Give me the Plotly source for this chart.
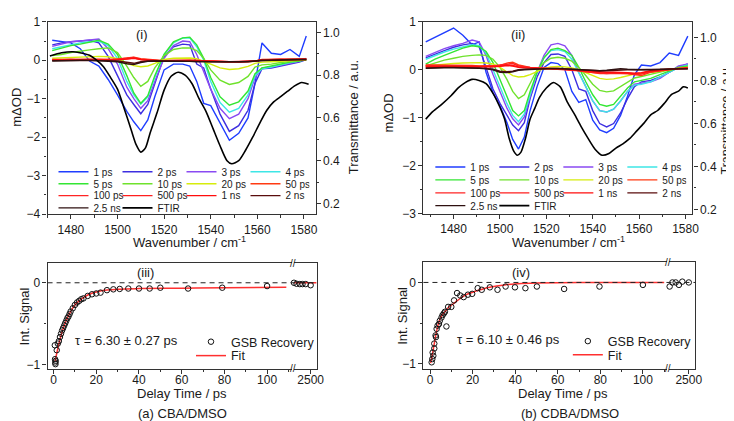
import plotly.graph_objects as go

# ---------------- data: panel (i) CBA/DMSO transient spectra ----------------
wn_a = [1472, 1476, 1480, 1484, 1488, 1492, 1496, 1500, 1504, 1507, 1510, 1513, 1516, 1520, 1524,
        1528, 1531, 1534, 1537, 1540, 1544, 1548, 1552, 1556, 1559, 1562, 1566, 1570, 1574, 1578, 1581]
a_1ps = [0.52, 0.48, 0.45, 0.30, -0.02, -0.15, -0.50, -0.90, -1.33, -1.60, -1.83, -1.55, -0.95, -0.25, -0.10,
         -0.10, -0.15, -0.55, -1.12, -1.18, -1.65, -2.08, -1.90, -1.50, -0.60, 0.45, 0.18, 0.15, 0.28, 0.10, 0.63]
a_2ps = [0.40, 0.45, 0.48, 0.50, 0.52, 0.45, 0.10, -0.40, -0.90, -1.15, -1.39, -1.15, -0.60, 0.10, 0.35,
         0.42, 0.40, -0.10, -0.20, -0.75, -1.40, -1.85, -1.70, -1.30, -0.60, -0.22, -0.20, -0.15, -0.10, -0.05, 0.02]
a_3ps = [0.36, 0.42, 0.48, 0.50, 0.52, 0.55, 0.30, -0.10, -0.70, -1.00, -1.25, -1.05, -0.55, 0.05, 0.38,
         0.50, 0.48, 0.15, -0.30, -0.75, -1.25, -1.52, -1.40, -1.00, -0.45, -0.20, -0.18, -0.12, -0.08, -0.03, 0.05]
a_4ps = [0.30, 0.35, 0.40, 0.45, 0.48, 0.50, 0.38, 0.05, -0.55, -0.90, -1.14, -0.95, -0.45, 0.15, 0.45,
         0.58, 0.58, 0.35, 0.00, -0.55, -1.10, -1.35, -1.25, -0.90, -0.40, -0.22, -0.18, -0.12, -0.06, -0.02, 0.03]
a_5ps = [0.25, 0.32, 0.38, 0.42, 0.48, 0.52, 0.42, 0.15, -0.40, -0.85, -1.12, -0.92, -0.40, 0.15, 0.48,
         0.58, 0.60, 0.40, 0.05, -0.45, -0.95, -1.17, -1.08, -0.80, -0.35, -0.20, -0.15, -0.10, -0.05, -0.02, 0.02]
a_10ps = [0.12, 0.15, 0.20, 0.24, 0.27, 0.30, 0.32, 0.20, -0.15, -0.45, -0.68, -0.55, -0.20, 0.12, 0.28,
          0.32, 0.32, 0.25, 0.05, -0.25, -0.52, -0.63, -0.58, -0.42, -0.18, -0.12, -0.10, -0.06, -0.03, -0.01, 0.01]
a_20ps = [0.05, 0.06, 0.08, 0.09, 0.10, 0.10, 0.09, 0.04, -0.08, -0.14, -0.17, -0.15, -0.08, 0.02, 0.05,
          0.06, 0.06, 0.04, -0.02, -0.10, -0.20, -0.24, -0.22, -0.16, -0.08, -0.05, -0.04, -0.03, -0.01, 0.00, 0.01]
a_50ps = [0.02, 0.02, 0.03, 0.03, 0.03, 0.03, 0.03, 0.03, 0.06, 0.08, 0.04, 0.02, 0.00, -0.01, 0.00,
          0.00, 0.00, 0.00, -0.02, -0.03, -0.04, -0.05, -0.05, -0.04, -0.03, 0.02, 0.03, 0.03, 0.03, 0.04, 0.04]
a_100ps = [0.01, 0.02, 0.02, 0.02, 0.03, 0.02, 0.02, 0.03, 0.05, 0.07, 0.03, 0.01, 0.00, -0.02, -0.01,
           0.00, 0.00, -0.01, -0.02, -0.03, -0.04, -0.04, -0.05, -0.04, -0.02, 0.01, 0.02, 0.03, 0.02, 0.03, 0.03]
a_500ps = [0.00, 0.01, 0.02, 0.01, 0.02, 0.02, 0.01, 0.02, 0.04, 0.06, 0.02, 0.00, -0.01, -0.02, -0.01,
           -0.01, 0.00, -0.01, -0.02, -0.03, -0.03, -0.04, -0.04, -0.03, -0.02, 0.01, 0.02, 0.02, 0.02, 0.02, 0.03]
a_1ns = [0.00, 0.00, 0.01, 0.01, 0.01, 0.01, 0.01, 0.01, 0.03, 0.05, 0.02, 0.00, -0.01, -0.02, -0.02,
         -0.01, -0.01, -0.01, -0.02, -0.02, -0.03, -0.04, -0.03, -0.03, -0.02, 0.01, 0.01, 0.02, 0.02, 0.02, 0.02]
a_2ns = [-0.01, -0.01, 0.00, 0.00, 0.00, 0.00, -0.01, -0.02, -0.06, -0.08, -0.04, -0.02, -0.02, -0.02, -0.02,
         -0.02, -0.03, -0.03, -0.03, -0.04, -0.04, -0.05, -0.04, -0.03, -0.02, 0.00, 0.01, 0.01, 0.02, 0.02, 0.02]
a_25ns = [-0.02, -0.01, -0.01, 0.00, 0.00, -0.01, -0.02, -0.04, -0.09, -0.11, -0.06, -0.03, -0.02, -0.02, -0.03,
          -0.03, -0.03, -0.04, -0.04, -0.05, -0.05, -0.05, -0.05, -0.04, -0.02, 0.00, 0.00, 0.01, 0.01, 0.02, 0.02]
wn_ftir_a = [1471, 1476, 1481, 1485, 1488, 1491, 1494, 1497, 1500, 1503, 1506, 1508, 1510, 1512, 1514, 1517,
             1520, 1523, 1526, 1529, 1532, 1535, 1538, 1541, 1544, 1547, 1549, 1552, 1555, 1558, 1561, 1564,
             1567, 1570, 1573, 1576, 1579, 1582]
ftir_a = [0.89, 0.905, 0.91, 0.903, 0.893, 0.87, 0.84, 0.79, 0.735, 0.64, 0.54, 0.475, 0.44, 0.46, 0.53, 0.625,
          0.73, 0.795, 0.814, 0.80, 0.76, 0.69, 0.63, 0.55, 0.47, 0.40, 0.386, 0.40, 0.45, 0.51, 0.575, 0.635,
          0.675, 0.70, 0.725, 0.75, 0.766, 0.758]

# ---------------- data: panel (ii) CDBA/DMSO transient spectra ----------------
wn_b = [1468, 1472, 1476, 1480, 1484, 1488, 1491, 1494, 1497, 1500, 1503, 1505.5, 1508, 1510.5, 1513, 1516,
        1519, 1522, 1525, 1528, 1531, 1534, 1537, 1540, 1543, 1546, 1549, 1552, 1555, 1558, 1561, 1565,
        1569, 1573, 1577, 1581]
b_1ps = [0.58, 0.68, 0.78, 0.87, 0.72, 0.52, 0.58, -0.05, -0.48, -0.75, -1.10, -1.45, -1.65, -1.40, -0.85, -0.35,
         0.05, 0.15, 0.13, 0.00, -0.45, -0.68, -0.62, -1.05, -1.25, -1.31, -1.22, -0.95, -0.55, -0.10, 0.10, 0.08,
         0.15, 0.35, 0.30, 0.70]
b_2ps = [0.25, 0.33, 0.40, 0.47, 0.52, 0.55, 0.48, 0.05, -0.40, -0.70, -0.95, -1.15, -1.27, -1.10, -0.60, -0.15,
         0.15, 0.32, 0.33, 0.28, 0.00, -0.40, -0.45, -0.85, -1.12, -1.19, -1.12, -0.90, -0.60, -0.35, -0.25, -0.22,
         -0.15, -0.05, 0.05, 0.12]
b_3ps = [0.28, 0.36, 0.44, 0.50, 0.55, 0.62, 0.58, 0.30, -0.10, -0.45, -0.80, -1.02, -1.15, -0.98, -0.55, -0.05,
         0.30, 0.52, 0.55, 0.50, 0.30, -0.05, -0.35, -0.65, -0.85, -0.88, -0.82, -0.65, -0.45, -0.30, -0.28, -0.25,
         -0.18, -0.05, 0.08, 0.12]
b_4ps = [0.22, 0.30, 0.37, 0.43, 0.48, 0.52, 0.50, 0.35, 0.00, -0.35, -0.70, -0.95, -1.08, -0.92, -0.50, -0.05,
         0.25, 0.40, 0.42, 0.38, 0.22, -0.05, -0.35, -0.65, -0.85, -0.88, -0.82, -0.65, -0.45, -0.32, -0.30, -0.25,
         -0.15, -0.05, 0.05, 0.10]
b_5ps = [0.12, 0.22, 0.30, 0.38, 0.45, 0.50, 0.48, 0.38, 0.15, -0.20, -0.55, -0.85, -0.96, -0.85, -0.45, -0.05,
         0.25, 0.42, 0.45, 0.40, 0.30, 0.05, -0.25, -0.52, -0.72, -0.76, -0.72, -0.55, -0.38, -0.25, -0.22, -0.18,
         -0.10, -0.02, 0.05, 0.08]
b_10ps = [0.08, 0.14, 0.20, 0.24, 0.28, 0.30, 0.31, 0.30, 0.22, 0.05, -0.20, -0.45, -0.60, -0.52, -0.28, 0.00,
          0.15, 0.24, 0.26, 0.24, 0.18, 0.05, -0.12, -0.30, -0.43, -0.46, -0.44, -0.35, -0.25, -0.17, -0.14, -0.10,
          -0.05, 0.00, 0.04, 0.06]
b_20ps = [0.08, 0.10, 0.12, 0.13, 0.14, 0.15, 0.15, 0.14, 0.12, 0.05, -0.05, -0.12, -0.15, -0.14, -0.10, -0.03,
          0.03, 0.06, 0.07, 0.06, 0.04, 0.00, -0.06, -0.12, -0.18, -0.20, -0.19, -0.16, -0.12, -0.09, -0.08, -0.06,
          -0.03, 0.00, 0.03, 0.05]
b_50ps = [0.10, 0.10, 0.10, 0.10, 0.09, 0.09, 0.08, 0.08, 0.08, 0.09, 0.14, 0.16, 0.10, 0.07, 0.05, 0.04,
          0.04, 0.04, 0.03, 0.02, 0.00, -0.02, -0.04, -0.06, -0.08, -0.08, -0.08, -0.08, -0.08, -0.10, -0.12, -0.05,
          -0.02, 0.00, 0.03, 0.05]
b_100ps = [0.09, 0.09, 0.09, 0.08, 0.08, 0.08, 0.07, 0.07, 0.08, 0.10, 0.12, 0.13, 0.08, 0.06, 0.05, 0.04,
           0.03, 0.03, 0.02, 0.01, 0.00, -0.02, -0.04, -0.05, -0.07, -0.08, -0.07, -0.07, -0.08, -0.10, -0.09, -0.04,
           -0.01, 0.01, 0.03, 0.04]
b_500ps = [0.07, 0.07, 0.07, 0.07, 0.07, 0.07, 0.06, 0.06, 0.07, 0.08, 0.10, 0.09, 0.06, 0.05, 0.04, 0.03,
           0.03, 0.02, 0.02, 0.01, 0.00, -0.01, -0.03, -0.04, -0.06, -0.06, -0.06, -0.06, -0.07, -0.08, -0.07, -0.03,
           -0.01, 0.01, 0.02, 0.03]
b_1ns = [0.06, 0.06, 0.06, 0.06, 0.06, 0.06, 0.05, 0.05, 0.06, 0.07, 0.09, 0.08, 0.05, 0.04, 0.03, 0.03,
         0.02, 0.02, 0.02, 0.01, 0.00, -0.01, -0.02, -0.03, -0.05, -0.05, -0.05, -0.05, -0.06, -0.07, -0.06, -0.02,
         0.00, 0.01, 0.02, 0.03]
b_2ns = [0.04, 0.05, 0.05, 0.05, 0.05, 0.05, 0.04, 0.03, 0.01, -0.03, -0.04, -0.03, 0.00, 0.01, 0.02, 0.02,
         0.02, 0.03, 0.03, 0.02, 0.01, 0.00, -0.01, -0.02, -0.02, -0.02, -0.01, 0.00, 0.00, 0.00, 0.00, 0.00,
         0.01, 0.02, 0.02, 0.02]
b_25ns = [0.03, 0.04, 0.04, 0.04, 0.04, 0.04, 0.03, 0.02, 0.00, -0.05, -0.06, -0.04, -0.01, 0.00, 0.01, 0.02,
          0.02, 0.03, 0.03, 0.02, 0.01, 0.00, -0.01, -0.02, -0.02, -0.01, 0.00, 0.02, 0.01, 0.00, 0.00, 0.00,
          0.01, 0.02, 0.02, 0.02]
wn_ftir_b = [1468, 1471, 1475, 1479, 1482, 1485, 1488, 1491, 1494, 1497, 1500, 1502, 1504, 1506, 1507.5, 1509,
             1511, 1513, 1515, 1517, 1520, 1523, 1526, 1529, 1532, 1535, 1538, 1541, 1544, 1547, 1550, 1553,
             1556, 1559, 1562, 1565, 1568, 1571, 1574, 1577, 1579, 1581]
ftir_b = [0.62, 0.655, 0.69, 0.73, 0.765, 0.79, 0.805, 0.80, 0.785, 0.74, 0.675, 0.62, 0.53, 0.47, 0.452, 0.465,
          0.53, 0.62, 0.67, 0.72, 0.765, 0.79, 0.77, 0.70, 0.645, 0.585, 0.53, 0.48, 0.452, 0.46, 0.485, 0.505,
          0.53, 0.565, 0.60, 0.64, 0.66, 0.695, 0.735, 0.75, 0.77, 0.765]

# ---------------- data: GSB recovery kinetics ----------------
t_a = [0.6, 0.7, 0.8, 0.9, 1.0, 1.5, 2.0, 2.5, 3.0, 3.5, 4.0, 4.5, 5.0, 5.5, 6.0, 6.5, 7.0, 7.5, 8.0, 9.0,
       10, 11, 12, 13, 14, 16, 18, 20, 22, 25, 28, 31, 35, 40, 45, 50, 63, 79, 100]
gsb_a = [-0.76, -0.93, -0.97, -0.99, -0.95, -0.82, -0.74, -0.71, -0.66, -0.62, -0.58, -0.55, -0.52, -0.49, -0.46,
         -0.43, -0.41, -0.38, -0.35, -0.31, -0.27, -0.24, -0.22, -0.20, -0.19, -0.16, -0.14, -0.13, -0.12, -0.09,
         -0.08, -0.075, -0.07, -0.07, -0.07, -0.06, -0.07, -0.06, -0.04]
t_a_long = [1210, 1410, 1660, 1870, 2120, 2500]
gsb_a_long = [0.0, -0.012, -0.016, -0.016, -0.016, -0.03]
fit_t_a = [0.8, 1, 2, 3, 4, 5, 6, 7, 8, 10, 12, 14, 16, 18, 20, 25, 30, 40, 60, 80, 109]
fit_a = [-0.95, -0.92, -0.80, -0.69, -0.60, -0.52, -0.456, -0.40, -0.35, -0.27, -0.22, -0.18, -0.149, -0.127,
         -0.112, -0.089, -0.078, -0.071, -0.066, -0.062, -0.055]
fit_t_a_long = [1200, 2960]
fit_a_long = [0.0, 0.0]

t_b = [0.77, 1.08, 1.24, 1.55, 2.0, 2.0, 2.6, 2.8, 3.1, 3.55, 4.2, 4.6, 5.4, 5.9, 6.5, 7.0, 7.7, 8.5, 10.0,
       11.3, 12.7, 14.2, 15.8, 17.8, 19.8, 22.4, 24.3, 28.1, 31.7, 35.5, 39.9, 44.8, 50.2, 63, 79.6, 100]
gsb_b = [-0.98, -0.94, -0.86, -0.90, -0.81, -0.75, -0.65, -0.67, -0.57, -0.53, -0.51, -0.47, -0.43, -0.40, -0.38,
         -0.36, -0.54, -0.30, -0.30, -0.22, -0.13, -0.16, -0.18, -0.15, -0.14, -0.07, -0.09, -0.06, -0.09, -0.05,
         -0.06, -0.07, -0.05, -0.08, -0.05, -0.03]
t_b_long = [1260, 1440, 1650, 1860, 2080, 2500]
gsb_b_long = [-0.05, 0.0, 0.0, -0.03, 0.01, 0.0]
fit_t_b = [0.3, 1, 2, 3, 4, 5, 6, 7, 8.5, 10, 12, 14, 17, 20, 24, 28, 35, 43, 50, 70, 110]
fit_b = [-0.99, -0.90, -0.75, -0.61, -0.50, -0.43, -0.39, -0.36, -0.31, -0.28, -0.24, -0.20, -0.15, -0.12,
         -0.087, -0.06, -0.03, -0.012, -0.008, 0.0, 0.0]

delay_labels = ['1 ps', '2 ps', '3 ps', '4 ps', '5 ps', '10 ps', '20 ps', '50 ps',
                '100 ps', '500 ps', '1 ns', '2 ns', '2.5 ns']
delay_colors = ['#1f3dff', '#3d2ee0', '#8a4af2', '#3ee6e6', '#33e633', '#6fe22c', '#d6ec0c', '#ff3a12',
                '#ff2424', '#ff1e1e', '#ff0d0d', '#5a0c0c', '#2e1010']

series_a = [a_1ps, a_2ps, a_3ps, a_4ps, a_5ps, a_10ps, a_20ps, a_50ps, a_100ps, a_500ps, a_1ns, a_2ns, a_25ns]
series_b = [b_1ps, b_2ps, b_3ps, b_4ps, b_5ps, b_10ps, b_20ps, b_50ps, b_100ps, b_500ps, b_1ns, b_2ns, b_25ns]

# ---------------- layout helpers ----------------
W, H = 734, 421
FONT = 'Liberation Sans, Arial, sans-serif'


def fx(p):
    return p / W


def fy(p):
    return 1 - p / H


fig = go.Figure()


def add_spectra(series, wn, wn_ftir, ftir, xa, ya, ya_t, legend_ids):
    for i, (lab, col, vals) in enumerate(zip(delay_labels, delay_colors, series)):
        fig.add_trace(go.Scatter(x=wn, y=vals, mode='lines', name=lab, xaxis=xa, yaxis=ya,
                                 line=dict(color=col, width=1.4), legend=legend_ids[i // 4]))
    fig.add_trace(go.Scatter(x=wn_ftir, y=ftir, mode='lines', name='FTIR', xaxis=xa, yaxis=ya_t,
                             line=dict(color='#000000', width=1.6, shape='spline', smoothing=0.7),
                             legend=legend_ids[3]))


add_spectra(series_a, wn_a, wn_ftir_a, ftir_a, 'x', 'y', 'y2', ['legend', 'legend2', 'legend3', 'legend4'])
add_spectra(series_b, wn_b, wn_ftir_b, ftir_b, 'x2', 'y3', 'y4', ['legend5', 'legend6', 'legend7', 'legend8'])

mk = dict(symbol='circle-open', size=5.5, color='#111', line=dict(width=1, color='#111'))
fitline = dict(color='#ff3030', width=1.5)

# panel (iii)
fig.add_trace(go.Scatter(x=fit_t_a, y=fit_a, mode='lines', name='Fit', xaxis='x3', yaxis='y5',
                         line=dict(shape='spline', **fitline), legend='legend10'))
fig.add_trace(go.Scatter(x=fit_t_a_long, y=fit_a_long, mode='lines', showlegend=False, xaxis='x4', yaxis='y6',
                         line=fitline))
fig.add_trace(go.Scatter(x=t_a, y=gsb_a, mode='markers', name='GSB Recovery', xaxis='x3', yaxis='y5',
                         marker=mk, cliponaxis=False, legend='legend9'))
fig.add_trace(go.Scatter(x=t_a_long, y=gsb_a_long, mode='markers', showlegend=False, xaxis='x4', yaxis='y6',
                         marker=mk, cliponaxis=False))
# panel (iv)
fig.add_trace(go.Scatter(x=fit_t_b, y=fit_b, mode='lines', name='Fit', xaxis='x5', yaxis='y7',
                         line=dict(shape='spline', **fitline), legend='legend12'))
fig.add_trace(go.Scatter(x=t_b, y=gsb_b, mode='markers', name='GSB Recovery', xaxis='x5', yaxis='y7',
                         marker=mk, cliponaxis=False, legend='legend11'))
fig.add_trace(go.Scatter(x=t_b_long, y=gsb_b_long, mode='markers', showlegend=False, xaxis='x6', yaxis='y8',
                         marker=mk, cliponaxis=False))

AX = dict(showline=True, linecolor='#333', linewidth=1.2, ticks='outside', ticklen=4, tickwidth=1.1,
          tickcolor='#333', showgrid=False, zeroline=False, tickfont=dict(size=12, color='#1a1a1a'),
          fixedrange=True)
AXB = dict(AX, ticklabelstandoff=-4)


def minor(d):
    return dict(dtick=d, ticks='outside', ticklen=2.5, tickwidth=1, tickcolor='#333', showgrid=False)


layout = dict(
    width=W, height=H, margin=dict(l=0, r=0, t=0, b=0), paper_bgcolor='white', plot_bgcolor='white',
    font=dict(family=FONT, color='#1a1a1a'),
    xaxis=dict(domain=[fx(40), fx(311)], range=[1470, 1585], anchor='y', tick0=1480, dtick=20,
               minor=minor(10), mirror=True, **AX),
    yaxis=dict(domain=[fy(206), fy(7)], range=[-4, 1], anchor='x', dtick=1, minor=minor(0.5), **AX),
    yaxis2=dict(overlaying='y', side='right', anchor='x', range=[0.15, 1.05], tick0=0.2, dtick=0.2,
                tickformat='.1f', minor=minor(0.1), **AX),
    xaxis2=dict(domain=[fx(420), fx(692)], range=[1467, 1583], anchor='y3', tick0=1480, dtick=20,
                minor=minor(10), mirror=True, **AX),
    yaxis3=dict(domain=[fy(205.7), fy(7)], range=[-3, 1], anchor='x2', dtick=1, minor=minor(0.5), **AX),
    yaxis4=dict(overlaying='y3', side='right', anchor='x2', range=[0.179, 1.073], tick0=0.2, dtick=0.2,
                tickformat='.1f', minor=minor(0.1), **AX),
    xaxis3=dict(domain=[fx(40), fx(287)], range=[-2.8, 111.6], anchor='y5', tick0=0, dtick=20,
                minor=minor(10), mirror=True, **AXB),
    xaxis4=dict(domain=[fx(289), fx(312)], range=[1200, 2960], anchor='y6', tickvals=[2500], mirror=True, **AXB),
    yaxis5=dict(domain=[fy(366), fy(257)], range=[-1.047, 0.235], anchor='x3', tickvals=[-1, 0],
                minor=dict(tickvals=[-0.5], ticks='outside', ticklen=2.5, tickcolor='#333'), **AX),
    yaxis6=dict(domain=[fy(366), fy(257)], range=[-1.047, 0.235], anchor='x4', side='right',
                showline=True, linecolor='#333', linewidth=1.2, ticks='', showticklabels=False,
                showgrid=False, zeroline=False),
    xaxis5=dict(domain=[fx(420), fx(666)], range=[-3.1, 111.2], anchor='y7', tick0=0, dtick=20,
                minor=minor(10), mirror=True, **AXB),
    xaxis6=dict(domain=[fx(668), fx(695)], range=[1200, 2930], anchor='y8', tickvals=[2500], mirror=True, **AXB),
    yaxis7=dict(domain=[fy(366), fy(256)], range=[-1.06, 0.245], anchor='x5', tickvals=[-1, 0],
                minor=dict(tickvals=[-0.5], ticks='outside', ticklen=2.5, tickcolor='#333'), **AX),
    yaxis8=dict(domain=[fy(366), fy(256)], range=[-1.06, 0.245], anchor='x6', side='right',
                showline=True, linecolor='#333', linewidth=1.2, ticks='', showticklabels=False,
                showgrid=False, zeroline=False),
)


def row_legend(xpx, ycpx, size=10, ew=19):
    return dict(x=fx(xpx), y=fy(ycpx - 14.5), xanchor='left', yanchor='top', orientation='h',
                bgcolor='rgba(0,0,0,0)', borderwidth=0, font=dict(size=size, family=FONT, color='#1a1a1a'),
                entrywidth=ew, entrywidthmode='pixels', tracegroupgap=0)


rows_a = [161.7, 174.0, 186.3, 199.0]
rows_b = [156.7, 170.0, 183.5, 196.7]
layout['legend'] = row_legend(46, rows_a[0])
layout['legend2'] = row_legend(46, rows_a[1])
layout['legend3'] = row_legend(46, rows_a[2])
layout['legend4'] = row_legend(46, rows_a[3])
layout['legend5'] = row_legend(427, rows_b[0])
layout['legend6'] = row_legend(427, rows_b[1])
layout['legend7'] = row_legend(427, rows_b[2])
layout['legend8'] = row_legend(427, rows_b[3])
layout['legend9'] = row_legend(185, 337.3, size=12.5, ew=0)
layout['legend10'] = row_legend(185, 351.7, size=12.5, ew=0)
layout['legend11'] = row_legend(566, 336.7, size=12.5, ew=0)
layout['legend12'] = row_legend(566, 350.7, size=12.5, ew=0)

fig.update_layout(**layout)

# zero reference dashed lines in kinetics panels
fig.add_shape(type='line', xref='paper', yref='y5', x0=fx(40), x1=fx(312), y0=0, y1=0,
              line=dict(color='#222', width=1, dash='5px,4px'))
fig.add_shape(type='line', xref='paper', yref='y7', x0=fx(420), x1=fx(695), y0=0, y1=0,
              line=dict(color='#222', width=1, dash='5px,4px'))


def ann(text, xpx, ypx, size=13, angle=0, xanchor='center'):
    fig.add_annotation(text=text, x=fx(xpx), y=fy(ypx), xref='paper', yref='paper', showarrow=False,
                       textangle=angle, xanchor=xanchor, yanchor='middle',
                       font=dict(size=size, family=FONT, color='#1a1a1a'))


ann('(i)', 135, 20)
ann('(ii)', 516, 20)
ann('(iii)', 139, 266.5)
ann('(iv)', 519, 266.5)
ann('mΔOD', 9, 95, angle=-90)
ann('mΔOD', 385, 101, angle=-90)
ann('Transmittance / a.u.', 349.5, 106, angle=-90)
ann('Transmittance / a.u.', 726, 108, size=12.5, angle=-90)
ann('Wavenumber / cm<sup>-1</sup>', 184, 235)
ann('Wavenumber / cm<sup>-1</sup>', 567, 235)
ann('Int. Signal', 16.5, 311.5, angle=-90)
ann('Int. Signal', 398, 311.5, angle=-90)
ann('Delay Time / ps', 176, 391.5)
ann('Delay Time / ps', 561.5, 392)
ann('τ = 6.30 ± 0.27 ps', 120, 337)
ann('τ = 6.10 ± 0.46 ps', 506.5, 336)
ann('(a) CBA/DMSO', 176, 412.5)
ann('(b) CDBA/DMSO', 568, 412.5)
for bx, by in [(288, 366), (288, 257), (667, 366), (667, 256)]:
    ann('//', bx, by, size=10)

fig.write_html('out.html')
